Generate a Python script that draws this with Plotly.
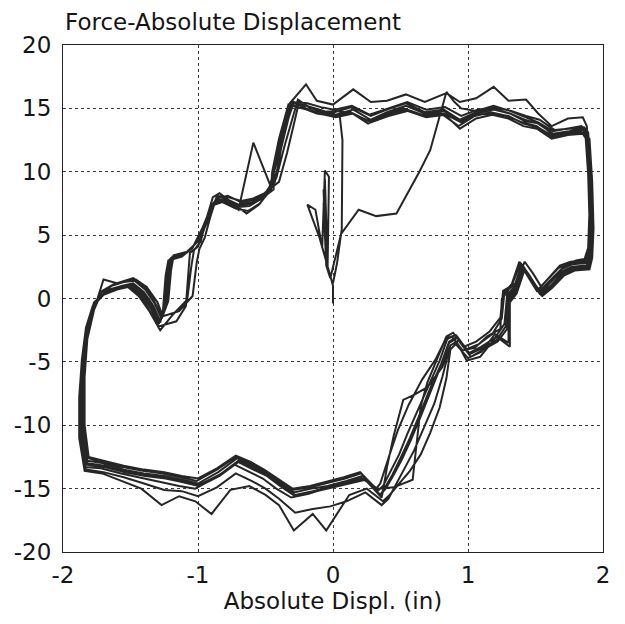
import plotly.graph_objects as go

# Tick values and labels
x_ticks = [-2, -1, 0, 1, 2]
y_ticks = [-20, -15, -10, -5, 0, 5, 10, 15, 20]

# Initial excursion from rest (displacement in, force)
initial_path = [(0.0, -0.4), (0.0, 1.0), (-0.02, 1.8), (-0.10, 4.8), (-0.19, 7.4), (-0.13, 7.0),
                (-0.08, 4.0), (-0.06, 10.1), (-0.03, 9.6), (-0.04, 2.4), (-0.07, 8.6), (-0.05, 3.0),
                (-0.06, 9.4), (-0.04, 2.8), (-0.07, 7.5), (-0.05, 2.6), (-0.02, 1.6), (0.06, 5.1),
                (0.19, 7.0), (0.32, 6.5), (0.47, 6.7), (0.64, 10.0), (0.72, 11.7), (0.79, 14.3),
                (0.84, 16.3), (0.90, 15.5)]

cycle_1 = [(0.95, 15.0), (1.06, 14.8), (1.19, 15.2), (1.31, 14.8), (1.42, 14.3), (1.52, 13.9), (1.63, 13.2),
           (1.74, 13.4), (1.84, 13.6), (1.88, 13.1), (1.90, 10.2), (1.91, 6.5), (1.91, 3.6), (1.88, 2.8),
           (1.77, 2.7), (1.69, 2.3), (1.60, 1.3), (1.53, 0.6), (1.46, 1.7), (1.40, 2.7), (1.34, 0.9),
           (1.29, 0.3), (1.27, -2.0), (1.20, -3.1), (1.10, -3.8), (1.01, -4.3), (0.92, -3.0), (0.86, -3.4),
           (0.80, -5.2), (0.72, -7.1), (0.64, -9.2), (0.57, -11.0), (0.50, -12.6), (0.44, -13.9),
           (0.38, -15.0), (0.35, -15.5), (0.22, -14.0), (0.10, -14.4), (-0.04, -14.8), (-0.16, -15.0),
           (-0.29, -15.3), (-0.40, -14.5), (-0.50, -13.8), (-0.60, -13.2), (-0.71, -12.6), (-0.85, -13.7),
           (-1.00, -14.6), (-1.12, -14.3), (-1.25, -14.0), (-1.40, -13.8), (-1.55, -13.5), (-1.70, -13.0),
           (-1.82, -12.8), (-1.86, -10.5), (-1.86, -7.0), (-1.84, -4.0), (-1.80, -1.5), (-1.74, 0.0),
           (-1.66, 0.7), (-1.56, 1.0), (-1.48, 1.2), (-1.40, 0.5), (-1.33, -0.6), (-1.28, -1.8),
           (-1.24, -0.6), (-1.22, 2.0), (-1.20, 3.2), (-1.10, 3.5), (-1.02, 4.3), (-0.95, 5.8),
           (-0.88, 7.6), (-0.80, 7.9), (-0.70, 7.4), (-0.60, 7.6), (-0.52, 8.0), (-0.46, 9.0),
           (-0.40, 11.5), (-0.34, 14.0), (-0.30, 15.4)]

cycle_2 = [(-0.20, 15.2), (-0.10, 14.9), (0.02, 14.5), (0.15, 14.9), (0.28, 14.1), (0.40, 14.7), (0.54, 15.2),
           (0.68, 14.6), (0.82, 14.8), (0.94, 14.0), (1.06, 14.6), (1.19, 14.9), (1.31, 14.6), (1.42, 14.0),
           (1.53, 13.8), (1.63, 12.9), (1.74, 13.1), (1.85, 13.3), (1.89, 12.8), (1.91, 9.5), (1.92, 5.8),
           (1.92, 3.4), (1.89, 2.5), (1.78, 2.4), (1.70, 2.0), (1.61, 1.0), (1.54, 0.4), (1.47, 1.4),
           (1.41, 2.5), (1.35, 0.6), (1.30, 0.0), (1.29, -2.4), (1.22, -3.4), (1.12, -4.0), (1.02, -4.6),
           (0.93, -3.3), (0.87, -3.7), (0.81, -5.4), (0.70, -7.0), (0.60, -7.6), (0.52, -8.0),
           (0.45, -10.8), (0.40, -13.3), (0.37, -15.2), (0.36, -15.7), (0.24, -14.3), (0.12, -14.6),
           (-0.02, -15.0), (-0.15, -15.3), (-0.28, -15.6), (-0.39, -14.8), (-0.49, -14.0), (-0.59, -13.5),
           (-0.70, -12.9), (-0.84, -14.0), (-0.99, -14.8), (-1.11, -14.5), (-1.24, -14.2), (-1.39, -14.0),
           (-1.54, -13.7), (-1.69, -13.3), (-1.83, -13.1), (-1.87, -10.8), (-1.87, -7.5), (-1.85, -4.5),
           (-1.82, -2.0), (-1.77, -0.3), (-1.68, 0.5), (-1.58, 0.9), (-1.50, 1.1), (-1.42, 0.4),
           (-1.35, -0.8), (-1.29, -2.0), (-1.26, -1.0), (-1.24, 1.8), (-1.22, 3.0), (-1.12, 3.3),
           (-1.04, 4.0), (-0.97, 5.5), (-0.90, 7.3), (-0.82, 7.7), (-0.72, 7.2), (-0.62, 7.3),
           (-0.54, 7.8), (-0.44, 8.6), (-0.44, 10.0), (-0.38, 13.0), (-0.32, 15.4)]

cycle_3 = [(-0.20, 16.9), (-0.12, 15.6), (0.00, 15.3), (0.15, 16.5), (0.28, 15.5), (0.40, 15.6), (0.54, 16.1),
           (0.68, 15.5), (0.84, 16.2), (0.94, 15.5), (1.06, 15.8), (1.19, 16.7), (1.30, 15.6), (1.43, 15.7),
           (1.52, 14.6), (1.62, 13.6), (1.74, 14.2), (1.85, 14.3), (1.88, 13.6), (1.90, 10.8), (1.90, 7.0),
           (1.89, 4.0), (1.86, 3.0), (1.76, 2.9), (1.68, 2.6), (1.59, 1.5), (1.52, 0.7), (1.45, 1.9),
           (1.39, 2.8), (1.33, 1.2), (1.27, 0.5), (1.25, -1.6), (1.18, -2.8), (1.08, -3.6), (0.99, -4.0),
           (0.91, -2.9), (0.85, -3.1), (0.79, -4.9), (0.71, -6.8), (0.63, -8.8), (0.55, -10.7),
           (0.49, -12.3), (0.43, -13.6), (0.37, -14.8), (0.33, -15.2), (0.21, -13.8), (0.09, -14.2),
           (-0.05, -14.6), (-0.17, -14.9), (-0.30, -15.1), (-0.41, -14.3), (-0.51, -13.6), (-0.61, -13.0),
           (-0.72, -12.5), (-0.86, -13.5), (-1.01, -14.4), (-1.13, -14.1), (-1.26, -13.8), (-1.41, -13.6),
           (-1.56, -13.3), (-1.71, -12.9), (-1.81, -12.6), (-1.85, -10.2), (-1.85, -6.5), (-1.83, -3.6),
           (-1.79, -1.2), (-1.72, 0.4), (-1.64, 1.0), (-1.55, 1.3), (-1.47, 1.4), (-1.39, 0.7),
           (-1.32, -0.4), (-1.27, -1.6), (-1.22, -0.2), (-1.20, 2.2), (-1.18, 3.4), (-1.08, 3.7),
           (-1.00, 4.5), (-0.93, 6.1), (-0.86, 7.9), (-0.78, 8.1), (-0.68, 7.6), (-0.58, 7.8),
           (-0.50, 8.2), (-0.42, 9.5), (-0.36, 12.0), (-0.29, 14.6), (-0.26, 15.7)]

cycle_4 = [(-0.18, 15.1), (-0.08, 14.7), (0.03, 14.8), (0.14, 14.6), (0.27, 14.0), (0.40, 14.5), (0.53, 14.9),
           (0.67, 14.4), (0.82, 14.6), (0.95, 13.9), (1.07, 14.5), (1.18, 14.6), (1.30, 14.4), (1.41, 13.8),
           (1.52, 13.5), (1.63, 12.8), (1.75, 13.0), (1.86, 13.1), (1.90, 12.6), (1.92, 9.2), (1.93, 5.5),
           (1.92, 3.2), (1.90, 2.3), (1.79, 2.2), (1.71, 1.8), (1.62, 0.8), (1.55, 0.2), (1.48, 1.2),
           (1.42, 2.3), (1.36, 0.4), (1.31, -0.3), (1.31, -3.8), (1.21, -3.0), (1.09, -4.6), (0.99, -4.9),
           (0.92, -3.5), (0.87, -4.0), (0.84, -6.3), (0.79, -8.6), (0.72, -10.6), (0.65, -12.3),
           (0.57, -13.6), (0.49, -14.6), (0.42, -15.5), (0.37, -16.0), (0.25, -15.0), (0.12, -15.5),
           (-0.05, -18.3), (-0.15, -17.0), (-0.29, -18.3), (-0.40, -16.3), (-0.50, -15.5), (-0.62, -14.8),
           (-0.76, -15.1), (-0.90, -17.0), (-1.02, -16.0), (-1.14, -15.6), (-1.27, -16.3), (-1.42, -15.0),
           (-1.56, -14.4), (-1.71, -13.8), (-1.84, -13.6), (-1.88, -11.0), (-1.88, -7.8), (-1.86, -4.8),
           (-1.83, -2.3), (-1.78, -0.6), (-1.70, 0.3), (-1.60, 0.7), (-1.52, 0.9), (-1.44, 0.2),
           (-1.36, -1.0), (-1.28, -2.5), (-1.18, -1.2), (-1.08, -0.1), (-1.05, 2.5), (-1.03, 3.8),
           (-0.98, 4.5), (-0.94, 6.2), (-0.89, 8.0), (-0.84, 8.3), (-0.74, 7.5), (-0.64, 6.7),
           (-0.55, 7.4), (-0.46, 8.6), (-0.45, 10.0), (-0.40, 12.6), (-0.33, 15.3)]

cycle_5 = [(-0.22, 15.0), (-0.12, 14.6), (0.00, 14.4), (0.13, 14.7), (0.26, 13.8), (0.39, 14.5), (0.52, 15.0),
           (0.66, 14.5), (0.80, 14.6), (0.93, 13.6), (1.05, 14.4), (1.17, 14.7), (1.29, 14.4), (1.40, 13.9),
           (1.51, 13.6), (1.62, 12.7), (1.73, 13.0), (1.83, 13.2), (1.87, 12.9), (1.89, 9.8), (1.90, 6.2),
           (1.90, 3.8), (1.87, 2.9), (1.75, 2.8), (1.67, 2.4), (1.58, 1.4), (1.51, 0.6), (1.44, 1.8),
           (1.38, 2.9), (1.32, 1.0), (1.26, 0.6), (1.24, -1.5), (1.16, -2.6), (1.06, -3.4), (0.97, -3.8),
           (0.89, -2.7), (0.84, -3.0), (0.77, -4.8), (0.70, -6.6), (0.65, -8.5), (0.59, -14.3),
           (0.45, -14.9), (0.33, -15.0), (0.20, -14.1), (0.08, -14.5), (-0.06, -15.0), (-0.18, -15.4),
           (-0.31, -15.7), (-0.42, -15.0), (-0.52, -14.2), (-0.62, -13.7), (-0.73, -13.1), (-0.87, -14.1),
           (-1.02, -15.0), (-1.14, -14.8), (-1.27, -14.5), (-1.42, -14.2), (-1.57, -13.8), (-1.72, -13.4),
           (-1.84, -13.3), (-1.87, -11.0), (-1.86, -7.2), (-1.84, -4.2), (-1.81, -1.8), (-1.75, -0.2),
           (-1.70, 1.5), (-1.60, 1.2), (-1.48, 1.6), (-1.38, 0.8), (-1.31, -0.5), (-1.27, -1.5),
           (-1.23, -0.3), (-1.21, 2.3), (-1.19, 3.3), (-1.09, 3.6), (-1.01, 4.4), (-0.94, 6.0),
           (-0.87, 7.8), (-0.80, 7.8), (-0.70, 7.0), (-0.59, 12.3), (-0.46, 8.8), (-0.41, 10.2),
           (-0.37, 12.8), (-0.31, 15.5)]

cycle_6 = [(-0.19, 15.4), (-0.09, 15.1), (0.01, 14.9), (0.14, 15.2), (0.27, 14.5), (0.41, 15.0), (0.55, 15.5),
           (0.69, 14.9), (0.83, 15.1), (0.95, 14.4), (1.07, 14.9), (1.20, 15.1), (1.32, 14.8), (1.43, 14.4),
           (1.53, 14.1), (1.64, 13.3), (1.76, 13.4), (1.86, 13.5), (1.89, 13.1), (1.91, 10.4), (1.92, 6.8),
           (1.92, 4.2), (1.90, 3.2), (1.80, 3.0), (1.72, 2.6), (1.63, 1.6), (1.55, 0.8), (1.48, 2.0),
           (1.42, 2.9), (1.36, 1.3), (1.30, 0.7), (1.25, -0.1), (1.24, -2.4), (1.14, -3.0), (1.05, -3.9),
           (0.96, -4.1), (0.88, -3.0), (0.83, -3.3), (0.76, -4.8), (0.66, -6.4), (0.56, -8.4),
           (0.48, -10.4), (0.42, -12.3), (0.38, -13.6), (0.35, -14.6), (0.32, -15.0), (0.20, -13.7),
           (0.08, -14.1), (-0.06, -14.5), (-0.17, -14.8), (-0.30, -15.0), (-0.41, -14.2), (-0.51, -13.5),
           (-0.61, -12.9), (-0.72, -12.4), (-0.86, -13.4), (-1.00, -14.2), (-1.12, -14.0), (-1.25, -13.7),
           (-1.40, -13.5), (-1.55, -13.2), (-1.70, -12.8), (-1.81, -12.5), (-1.84, -10.0), (-1.84, -6.2),
           (-1.82, -3.2), (-1.77, -0.9), (-1.71, 0.6), (-1.63, 1.1), (-1.54, 1.4), (-1.46, 1.5),
           (-1.38, 0.9), (-1.30, -0.3), (-1.26, -1.4), (-1.14, -1.0), (-1.04, 0.2), (-1.01, 2.8),
           (-0.99, 3.9), (-0.95, 4.8), (-0.91, 6.4), (-0.86, 8.1), (-0.78, 8.0), (-0.68, 7.7),
           (-0.59, 7.9), (-0.51, 8.3), (-0.40, 9.2), (-0.34, 11.5), (-0.28, 14.2), (-0.25, 15.6)]

cycle_7 = [(-0.21, 15.3), (-0.11, 14.8), (0.01, 14.7), (0.14, 15.1), (0.28, 14.4), (0.40, 14.9), (0.54, 15.4),
           (0.68, 14.7), (0.82, 14.9), (0.94, 14.1), (1.06, 14.7), (1.19, 15.0), (1.31, 14.6), (1.42, 14.1),
           (1.52, 13.8), (1.63, 13.0), (1.75, 13.2), (1.85, 13.4), (1.89, 12.9), (1.91, 9.9), (1.91, 6.3),
           (1.91, 3.5), (1.88, 2.6), (1.77, 2.5), (1.69, 2.1), (1.60, 1.1), (1.53, 0.4), (1.46, 1.5),
           (1.40, 2.6), (1.34, 0.7), (1.29, 0.1), (1.28, -2.2), (1.21, -3.3), (1.11, -3.9), (1.01, -4.4),
           (0.92, -3.1), (0.86, -3.5), (0.80, -5.3), (0.73, -7.2), (0.65, -9.3), (0.58, -11.1),
           (0.51, -12.7), (0.45, -13.9), (0.39, -15.0), (0.35, -15.5), (0.23, -14.2), (0.11, -14.5),
           (-0.03, -14.9), (-0.15, -15.2), (-0.28, -15.5), (-0.39, -14.7), (-0.49, -13.9), (-0.59, -13.4),
           (-0.70, -12.8), (-0.84, -13.9), (-0.99, -14.7), (-1.11, -14.4), (-1.24, -14.1), (-1.39, -13.9),
           (-1.54, -13.6), (-1.69, -13.2), (-1.82, -13.0), (-1.86, -10.6), (-1.86, -7.1), (-1.84, -4.1),
           (-1.80, -1.6), (-1.75, -0.1), (-1.67, 0.6), (-1.57, 0.9), (-1.49, 1.1), (-1.41, 0.4),
           (-1.34, -0.7), (-1.28, -1.9), (-1.25, -0.7), (-1.23, 1.9), (-1.21, 3.1), (-1.11, 3.4),
           (-1.03, 4.2), (-0.96, 5.7), (-0.89, 7.5), (-0.81, 7.8), (-0.71, 7.3), (-0.61, 7.5),
           (-0.53, 7.9), (-0.43, 9.2), (-0.39, 11.6), (-0.33, 14.2), (-0.29, 15.5)]

cycle_8 = [(-0.20, 15.0), (-0.10, 14.6), (0.02, 14.3), (0.15, 14.6), (0.28, 13.9), (0.41, 14.4), (0.55, 14.8),
           (0.69, 14.3), (0.83, 14.5), (0.94, 13.4), (1.06, 14.2), (1.18, 14.5), (1.30, 14.2), (1.41, 13.6),
           (1.51, 13.4), (1.62, 12.6), (1.74, 12.9), (1.85, 13.0), (1.88, 12.5), (1.90, 9.0), (1.91, 5.2),
           (1.91, 3.0), (1.89, 2.4), (1.78, 2.3), (1.70, 1.9), (1.61, 0.9), (1.54, 0.3), (1.47, 1.3),
           (1.41, 2.4), (1.35, 0.5), (1.30, -0.2), (1.30, -3.5), (1.20, -2.8), (1.10, -4.2), (1.00, -4.7),
           (0.91, -3.6), (0.86, -4.1), (0.81, -6.2), (0.75, -8.3), (0.67, -10.3), (0.60, -12.0),
           (0.53, -13.4), (0.47, -14.6), (0.41, -15.8), (0.36, -16.3), (0.24, -15.3), (0.10, -16.0),
           (-0.02, -16.4), (-0.15, -16.6), (-0.28, -16.9), (-0.40, -15.8), (-0.50, -15.0), (-0.60, -14.4),
           (-0.72, -13.8), (-0.86, -14.9), (-1.00, -15.6), (-1.12, -15.2), (-1.25, -15.1), (-1.40, -14.6),
           (-1.55, -14.1), (-1.70, -13.7), (-1.83, -13.5), (-1.87, -11.2), (-1.87, -7.6), (-1.85, -4.6),
           (-1.82, -2.1), (-1.76, -0.4), (-1.69, 0.4), (-1.59, 0.8), (-1.51, 1.0), (-1.43, 0.3),
           (-1.36, -0.9), (-1.29, -2.2), (-1.16, -1.8), (-1.09, -0.6), (-1.07, 2.2), (-1.06, 3.6),
           (-1.00, 4.1), (-0.95, 5.6), (-0.88, 7.4), (-0.82, 7.6), (-0.72, 7.1), (-0.63, 6.9),
           (-0.54, 7.5), (-0.47, 8.8), (-0.42, 10.8), (-0.36, 13.4), (-0.30, 15.2)]

# Return to rest at the end of the record
final_unload = [(-0.22, 15.0), (-0.12, 14.7), (0.00, 14.5), (0.05, 14.4), (0.07, 12.5), (0.07, 9.0),
                (0.065, 5.5), (0.03, 2.8), (0.0, 1.2)]

record = (initial_path + cycle_1 + cycle_2 + cycle_3 + cycle_4 + cycle_5 + cycle_6
          + cycle_7 + cycle_8 + final_unload)
displacement = [p[0] for p in record]
force = [p[1] for p in record]

fig = go.Figure()
fig.add_trace(go.Scatter(
    x=displacement, y=force, mode="lines",
    line=dict(color="#262626", width=2),
    showlegend=False, hoverinfo="skip",
))

font_family = "DejaVu Sans, Liberation Sans, Arial, sans-serif"
text_color = "#151515"
axis_common = dict(
    showline=True, mirror=True, linecolor="#222", linewidth=1.2,
    showgrid=True, gridcolor="#3a3a3a", gridwidth=1, griddash="3px,3px",
    zeroline=False, ticks="",
    tickfont=dict(family=font_family, size=23, color=text_color),
)

fig.update_layout(
    width=625, height=624,
    margin=dict(l=63, r=22, t=45, b=72),
    paper_bgcolor="white", plot_bgcolor="white",
    xaxis=dict(range=[-2, 2], tickvals=x_ticks, ticktext=[str(v) for v in x_ticks],
               ticklabelstandoff=2,
               title=dict(text="Absolute Displ. (in)", standoff=4,
                          font=dict(family=font_family, size=23, color=text_color)),
               **axis_common),
    yaxis=dict(range=[-20, 20], tickvals=y_ticks, ticktext=[str(v) for v in y_ticks],
               ticklabelstandoff=6,
               **axis_common),
    annotations=[dict(
        text="Force-Absolute Displacement", showarrow=False,
        xref="paper", yref="paper", x=0, y=1 + 23 / 507,
        xanchor="left", yanchor="middle",
        font=dict(family=font_family, size=23, color=text_color),
    )],
)

fig.write_html("out.html")
